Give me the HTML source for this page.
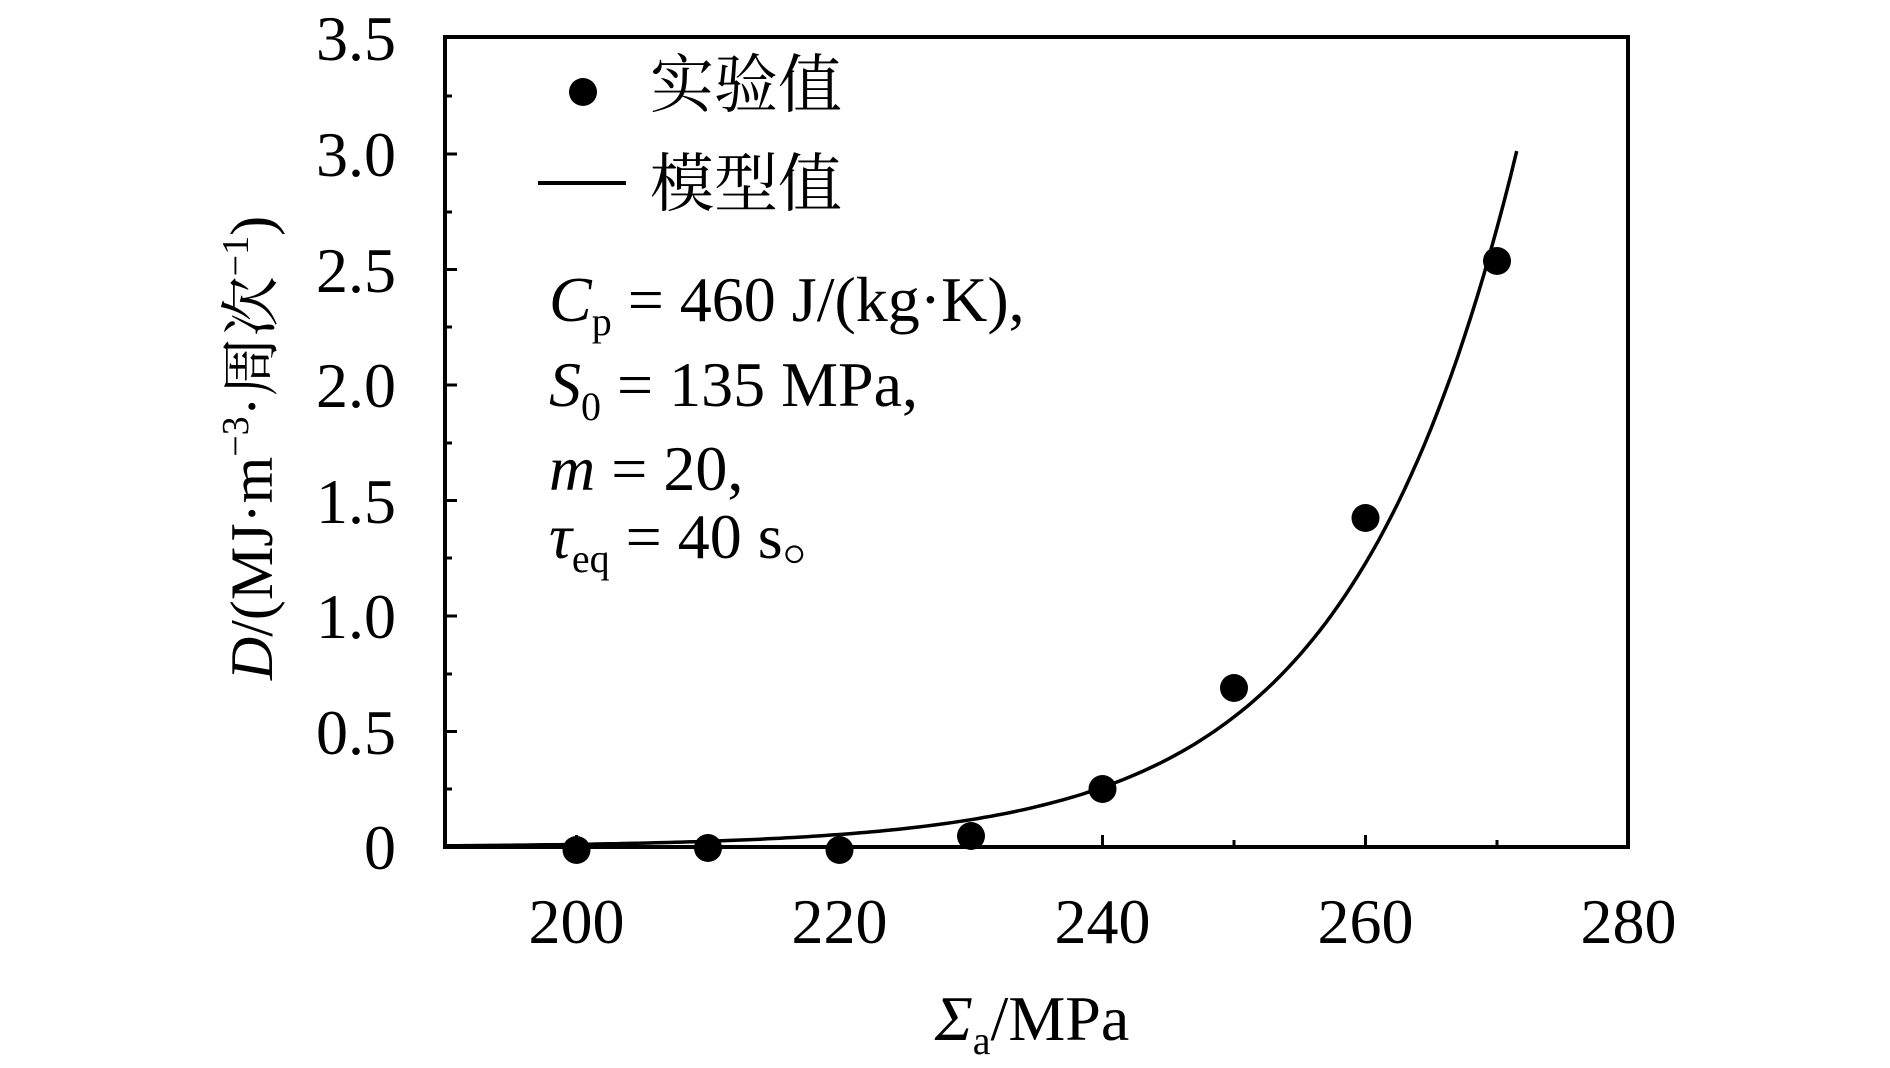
<!DOCTYPE html>
<html><head><meta charset="utf-8"><style>
html,body{margin:0;padding:0;background:#fff;}
svg{display:block;}
text{font-family:"Liberation Serif","Noto Serif CJK SC",serif;fill:#000;}
</style></head><body>
<svg width="1890" height="1068" viewBox="0 0 1890 1068" xmlns="http://www.w3.org/2000/svg">
<rect x="445" y="37" width="1183" height="810" fill="none" stroke="#000" stroke-width="4"/>
<g stroke="#000" stroke-width="3">
<line x1="576.5" y1="847" x2="576.5" y2="835"/><line x1="839.5" y1="847" x2="839.5" y2="835"/>
<line x1="1102.5" y1="847" x2="1102.5" y2="835"/><line x1="1365.5" y1="847" x2="1365.5" y2="835"/>
<line x1="708" y1="847" x2="708" y2="840"/><line x1="971" y1="847" x2="971" y2="840"/>
<line x1="1234" y1="847" x2="1234" y2="840"/><line x1="1497" y1="847" x2="1497" y2="840"/>
<line x1="445" y1="731.5" x2="457" y2="731.5"/><line x1="445" y1="616" x2="457" y2="616"/>
<line x1="445" y1="500.5" x2="457" y2="500.5"/><line x1="445" y1="385" x2="457" y2="385"/>
<line x1="445" y1="269.5" x2="457" y2="269.5"/><line x1="445" y1="154" x2="457" y2="154"/>
<line x1="445" y1="789" x2="452" y2="789"/><line x1="445" y1="674" x2="452" y2="674"/>
<line x1="445" y1="558" x2="452" y2="558"/><line x1="445" y1="443" x2="452" y2="443"/>
<line x1="445" y1="327" x2="452" y2="327"/><line x1="445" y1="212" x2="452" y2="212"/>
<line x1="445" y1="96" x2="452" y2="96"/>
</g>
<g font-size="64" text-anchor="end">
<text x="396" y="869">0</text><text x="396" y="754">0.5</text><text x="396" y="638">1.0</text>
<text x="396" y="523">1.5</text><text x="396" y="407">2.0</text><text x="396" y="292">2.5</text>
<text x="396" y="176">3.0</text><text x="396" y="60">3.5</text>
</g>
<g font-size="64" text-anchor="middle">
<text x="576.5" y="943">200</text><text x="839.5" y="943">220</text><text x="1102.5" y="943">240</text>
<text x="1365.5" y="943">260</text><text x="1628.5" y="943">280</text>
</g>
<text x="1032" y="1040" font-size="64" text-anchor="middle"><tspan font-style="italic">Σ</tspan><tspan font-size="40" dy="14">a</tspan><tspan dy="-14">/MPa</tspan></text>
<text transform="translate(272,448) rotate(-90)" font-size="60" text-anchor="middle"><tspan font-style="italic">D</tspan>/(MJ·m<tspan font-size="38" dy="-24">−3</tspan><tspan dy="24">·周次</tspan><tspan font-size="38" dy="-24">−1</tspan><tspan dy="24">)</tspan></text>
<path id="curve" fill="none" stroke="#000" stroke-width="3.5" d=""/>
<g fill="#000">
<circle cx="576.5" cy="850" r="14"/><circle cx="708" cy="848" r="14"/><circle cx="839.5" cy="850" r="14"/>
<circle cx="971" cy="836" r="14"/><circle cx="1102.5" cy="789" r="14"/><circle cx="1234" cy="688" r="14"/>
<circle cx="1365.5" cy="518" r="14"/><circle cx="1497" cy="261" r="14"/>
<circle cx="583" cy="92" r="14"/>
</g>
<line x1="538" y1="183" x2="626" y2="183" stroke="#000" stroke-width="4"/>
<text x="650" y="107" font-size="64">实验值</text>
<text x="650" y="206" font-size="64">模型值</text>
<g font-size="64">
<text x="549" y="321"><tspan font-style="italic">C</tspan><tspan font-size="40" dy="14">p</tspan><tspan dy="-14"> = 460 J/(kg·K),</tspan></text>
<text x="549" y="406"><tspan font-style="italic">S</tspan><tspan font-size="40" dy="14">0</tspan><tspan dy="-14"> = 135 MPa,</tspan></text>
<text x="549" y="490"><tspan font-style="italic">m</tspan> = 20,</text>
<text x="549" y="558"><tspan font-style="italic">τ</tspan><tspan font-size="40" dy="14">eq</tspan><tspan dy="-14"> = 40 s。</tspan></text>
</g>
<script>
(function(){var d="",x;for(x=190;x<=271.61;x+=0.5){var v=2.68*Math.exp(0.078*(x-270));var px=445+(x-190)*13.15;var py=847-v*231;d+=(x==190?"M":"L")+px.toFixed(1)+" "+py.toFixed(1);}document.getElementById("curve").setAttribute("d",d);})();
</script>
</svg>
</body></html>
